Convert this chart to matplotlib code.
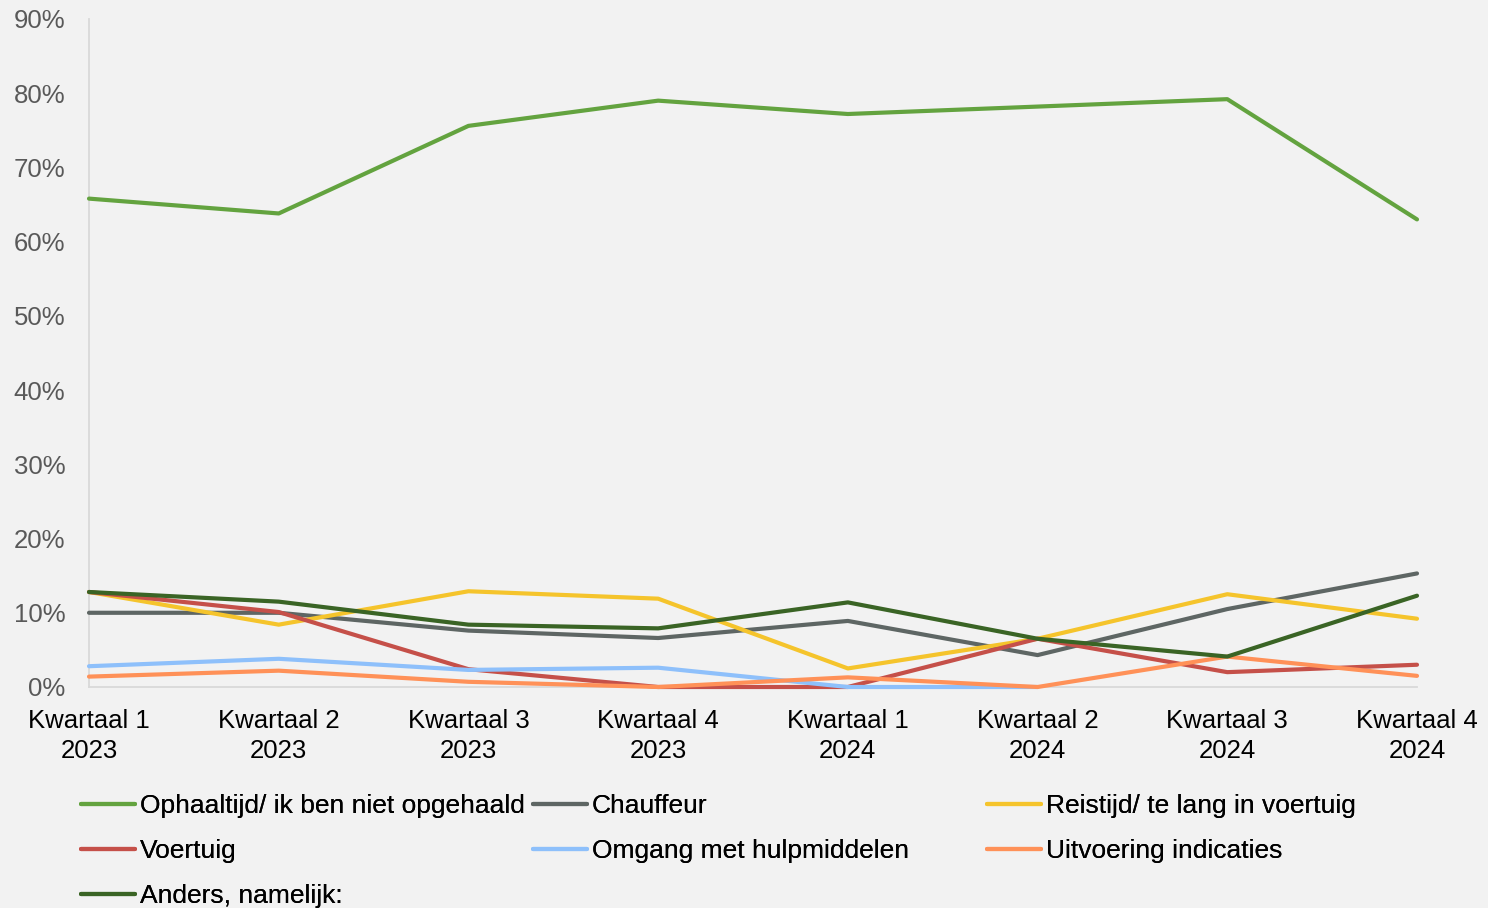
import matplotlib.pyplot as plt
import numpy as np

plt.rcParams['font.family'] = ['Liberation Sans', 'DejaVu Sans']

# kwartalen op de x-as
kwartalen = ['Kwartaal 1\n2023', 'Kwartaal 2\n2023', 'Kwartaal 3\n2023', 'Kwartaal 4\n2023',
             'Kwartaal 1\n2024', 'Kwartaal 2\n2024', 'Kwartaal 3\n2024', 'Kwartaal 4\n2024']

# percentages per categorie
ophaaltijd = [65.8, 63.8, 75.6, 79.0, 77.2, 78.2, 79.2, 63.0]
chauffeur = [10.0, 10.0, 7.6, 6.6, 8.9, 4.3, 10.5, 15.3]
reistijd = [12.8, 8.4, 12.9, 11.9, 2.5, 6.5, 12.5, 9.2]
voertuig = [12.8, 10.1, 2.4, 0.0, 0.0, 6.5, 2.0, 3.0]
omgang = [2.8, 3.8, 2.3, 2.6, 0.0, 0.0, np.nan, np.nan]
uitvoering = [1.4, 2.2, 0.7, 0.0, 1.3, 0.0, 4.1, 1.5]
anders = [12.8, 11.5, 8.4, 7.9, 11.4, 6.5, 4.1, 12.3]

series = [
    ('Ophaaltijd/ ik ben niet opgehaald', ophaaltijd, '#63A33F'),
    ('Chauffeur', chauffeur, '#5E6664'),
    ('Reistijd/ te lang in voertuig', reistijd, '#F5C42C'),
    ('Voertuig', voertuig, '#C55049'),
    ('Omgang met hulpmiddelen', omgang, '#8EC0FB'),
    ('Uitvoering indicaties', uitvoering, '#FF9158'),
    ('Anders, namelijk:', anders, '#3A6425'),
]

bg = '#F2F2F2'
fig = plt.figure(figsize=(14.88, 9.08), dpi=100, facecolor=bg)
ax = fig.add_axes([89/1488, 1 - 687/908, (1417-89)/1488, (687-19)/908])
ax.set_facecolor(bg)

x = np.arange(len(kwartalen))
lines = {}
for naam, vals, kleur in series:
    ln, = ax.plot(x, vals, color=kleur, lw=3.0, solid_capstyle='round',
                  solid_joinstyle='round', label=naam, clip_on=False)
    lines[naam] = ln

ax.set_xlim(0, len(kwartalen) - 1)
ax.set_ylim(0, 90)
ax.set_yticks(np.arange(0, 91, 10))
ax.set_yticklabels([f'{v}%' for v in range(0, 91, 10)])
ax.set_xticks(x)
ax.set_xticklabels(kwartalen, linespacing=1.33)

ax.tick_params(axis='y', length=0, pad=17, labelsize=18.5, labelcolor='#595959')
ax.tick_params(axis='x', length=0, pad=16, labelsize=18.5, labelcolor='black')
for s in ['top', 'right']:
    ax.spines[s].set_visible(False)
for s in ['left', 'bottom']:
    ax.spines[s].set_color('#D9D9D9')
    ax.spines[s].set_linewidth(1.3)
    ax.spines[s].set_zorder(0)

# legenda in drie kolommen met vaste breedte
kolommen = [
    (81, ['Ophaaltijd/ ik ben niet opgehaald', 'Voertuig', 'Anders, namelijk:']),
    (533, ['Chauffeur', 'Omgang met hulpmiddelen']),
    (987, ['Reistijd/ te lang in voertuig', 'Uitvoering indicaties']),
]
for xpx, namen in kolommen:
    leg = fig.legend([lines[n] for n in namen], namen, loc='upper left',
                     bbox_to_anchor=(xpx/1488, 1 - 794/908), frameon=False,
                     fontsize=19, handlelength=2.05, handletextpad=0.18,
                     borderpad=0, borderaxespad=0, labelspacing=0.8)
    fig.add_artist(leg)

fig.savefig('out.png', dpi=100, facecolor=bg)
